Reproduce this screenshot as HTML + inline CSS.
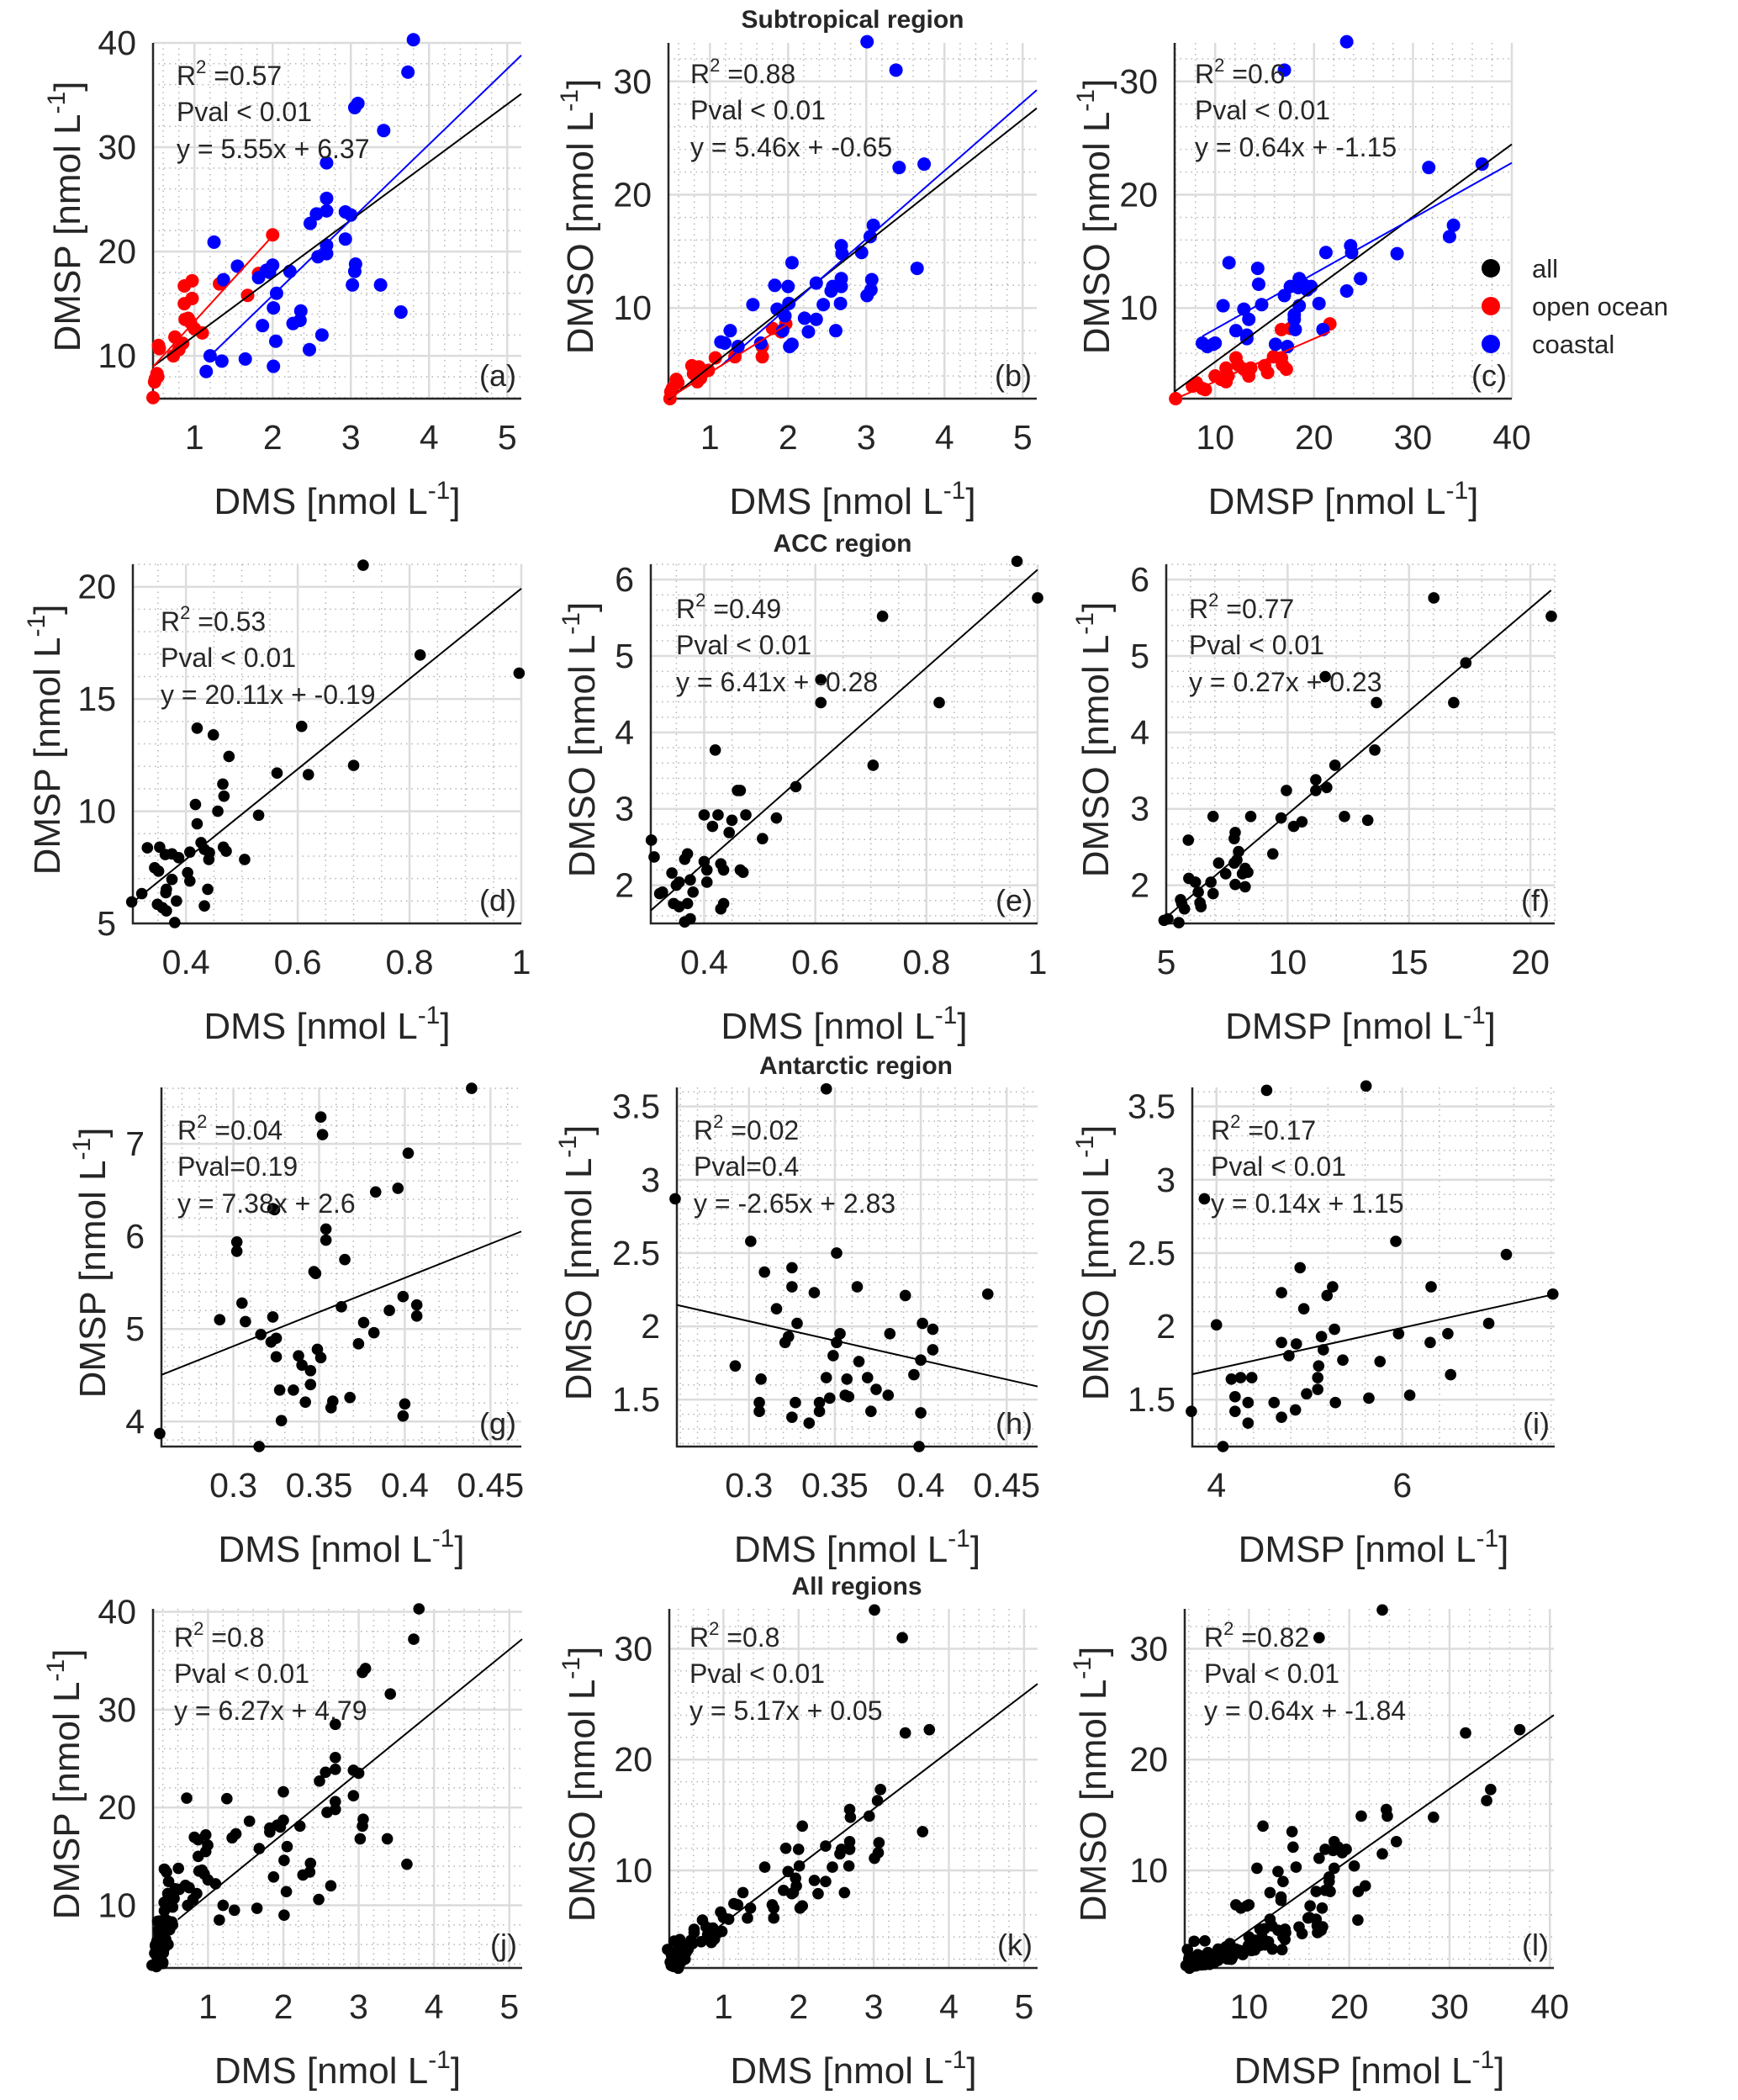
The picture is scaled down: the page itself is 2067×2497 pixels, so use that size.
<!DOCTYPE html>
<html><head><meta charset="utf-8"><style>
body{margin:0;background:#fff}
svg{display:block}
text{font-family:"Liberation Sans",Arial,sans-serif;fill:#262626}
</style></head><body>
<svg id="fig" width="2067" height="2497" viewBox="0 0 2067 2497" xmlns="http://www.w3.org/2000/svg"></svg>
<script>
// ---------- DATA ----------
const aRed=[[0.47,6],[0.5,7.8],[0.52,8.3],[0.49,7.5],[0.53,8],[0.54,11],[0.55,10.7],[0.73,10],[0.75,11.8],[0.8,10.6],[0.85,11.2],[0.87,16.7],[0.97,17.2],[0.97,15.5],[0.87,15],[0.88,13.5],[0.92,13.6],[0.95,13.2],[1.0,12.6],[1.1,12.2],[1.32,16.9],[1.68,15.8],[1.82,17.9],[2.0,21.6]];
const aBlue=[[1.15,8.5],[1.2,10],[1.35,9.5],[1.65,9.7],[1.25,20.9],[1.37,17.3],[1.55,18.6],[1.82,17.5],[1.92,18.2],[2.0,18.7],[1.96,18],[2.05,16],[2.01,14.6],[1.87,12.9],[2.04,11.4],[2.01,9],[2.22,18.1],[2.26,13.1],[2.35,13.4],[2.36,14.3],[2.47,10.6],[2.63,12],[2.48,22.7],[2.56,23.6],[2.69,23.9],[2.69,25.1],[2.69,20.6],[2.69,19.8],[2.58,19.5],[2.69,28.5],[2.93,23.8],[3.0,23.5],[2.93,21.2],[3.06,18.8],[3.05,18.1],[3.02,16.8],[3.38,16.8],[3.64,14.2],[3.05,33.8],[3.09,34.2],[3.42,31.6],[3.73,37.2],[3.8,40.3]];
const bRed=[[0.49,2],[0.52,2.9],[0.57,3.7],[0.5,2.6],[0.59,3.4],[0.77,4.9],[0.82,4.6],[0.86,4.8],[0.79,4.2],[0.88,3.8],[0.93,4.4],[0.98,4.5],[0.84,3.5],[0.89,4.1],[1.07,5.6],[1.32,5.7],[1.67,6.6],[1.67,5.7],[1.8,8.2],[1.97,8.6],[1.91,7.9]];
const bBlue=[[3.01,33.5],[3.38,31],[3.42,22.4],[3.74,22.7],[3.09,17.3],[3.05,16.3],[2.94,14.9],[2.68,15.5],[2.69,14.8],[2.05,14],[1.83,12],[2.0,11.9],[2.36,12.2],[2.01,10.4],[1.86,9.9],[1.96,9.3],[1.55,10.3],[2.57,11.9],[2.55,11.5],[2.68,12.6],[2.68,11.9],[2.67,10.4],[2.45,10.3],[2.21,9.1],[2.36,9],[2.26,7.9],[2.61,8],[1.93,8],[2.02,6.6],[2.05,6.8],[1.65,6.9],[1.26,8],[1.14,7],[1.19,6.9],[1.36,6.6],[3.07,12.5],[3.06,11.6],[3.01,11.1],[3.65,13.5]];
const cRed=[[6,2],[7.7,3.1],[8.1,3.4],[8.7,2.9],[9.0,2.8],[10,4],[10.6,3.7],[11.1,3.5],[11.3,4],[11.1,4.7],[12.1,5.6],[12.3,5],[12.9,4.6],[13.4,4],[13.6,4.7],[15,4.9],[15.3,4.3],[15.9,5.7],[16.7,5.6],[16.8,5],[17.2,4.6],[16.7,8.1],[17.6,8.2],[21.6,8.6]];
const cBlue=[[23.3,33.5],[17,31],[31.6,22.4],[37,22.7],[34.1,17.3],[33.7,16.3],[28.4,14.8],[23.7,15.5],[23.8,14.9],[21.2,14.9],[24.7,12.6],[23.3,11.5],[11.4,14],[14.3,13.5],[14.4,12.1],[10.8,10.2],[14.7,10.3],[12.9,9.9],[13.4,9],[12.1,8],[13.2,7.6],[13.2,7.3],[8.7,6.9],[9.2,6.6],[9.8,6.8],[10,6.9],[16.1,6.8],[17.3,6.6],[17,11.1],[17.6,11.9],[18.5,12.6],[18.4,11.8],[18.9,12.1],[19.7,11.9],[19.3,11.6],[18.5,10.2],[18,9.4],[18,9],[18.1,8.1],[20.5,10.4],[20.9,8.1]];
const dPts=[[0.717,20.96],[0.819,16.96],[0.996,16.15],[0.607,13.78],[0.42,13.7],[0.449,13.4],[0.477,12.44],[0.70,12.04],[0.563,11.7],[0.619,11.63],[0.466,11.21],[0.468,10.67],[0.417,10.3],[0.457,10],[0.53,9.82],[0.42,9.44],[0.331,8.37],[0.353,8.4],[0.363,8.07],[0.375,8.1],[0.387,7.93],[0.407,8.18],[0.427,8.6],[0.433,8.3],[0.442,8.15],[0.441,7.85],[0.467,8.4],[0.472,8.22],[0.505,7.85],[0.344,7.48],[0.351,7.33],[0.375,6.96],[0.403,7.26],[0.407,6.89],[0.365,6.52],[0.364,6.37],[0.439,6.52],[0.303,5.96],[0.321,6.33],[0.349,5.85],[0.358,5.7],[0.365,5.56],[0.383,6],[0.38,5.04],[0.433,5.78]];
const ePts=[[0.963,6.24],[1.0,5.76],[0.721,5.52],[0.823,4.39],[0.704,3.57],[0.61,4.69],[0.61,4.39],[0.42,3.77],[0.305,2.59],[0.31,2.37],[0.4,2.92],[0.425,2.92],[0.415,2.77],[0.445,2.69],[0.45,2.85],[0.475,2.92],[0.46,3.24],[0.465,3.24],[0.565,3.29],[0.53,2.88],[0.505,2.61],[0.37,2.41],[0.365,2.34],[0.342,2.16],[0.325,1.91],[0.32,1.89],[0.35,2.0],[0.355,2.04],[0.375,2.07],[0.38,1.91],[0.4,2.31],[0.405,2.2],[0.405,2.04],[0.43,2.28],[0.435,2.2],[0.465,2.2],[0.47,2.17],[0.345,1.76],[0.355,1.72],[0.37,1.76],[0.435,1.76],[0.43,1.69],[0.365,1.52],[0.375,1.56]];
const fPts=[[16.02,5.76],[20.86,5.52],[17.34,4.91],[11.55,4.73],[13.66,4.39],[16.84,4.39],[13.59,3.77],[11.95,3.57],[11.16,3.38],[11.16,3.24],[11.61,3.28],[9.95,3.24],[6.93,2.9],[8.48,2.9],[9.73,2.88],[12.34,2.9],[13.3,2.85],[10.59,2.83],[10.25,2.77],[5.91,2.59],[7.84,2.69],[7.8,2.61],[9.39,2.41],[7.98,2.44],[7.91,2.33],[7.16,2.29],[7.8,2.29],[7.45,2.15],[8.25,2.22],[8.36,2.17],[8.14,2.15],[5.93,2.09],[6.2,2.04],[6.84,2.04],[7.84,2.01],[8.25,1.98],[6.32,1.91],[6.93,1.89],[5.59,1.81],[5.75,1.69],[5.64,1.76],[6.39,1.77],[6.43,1.72],[4.91,1.54],[5.07,1.56],[5.52,1.51]];
const gPts=[[0.439,7.6],[0.351,7.29],[0.352,7.1],[0.402,6.9],[0.396,6.52],[0.383,6.48],[0.323,6.3],[0.324,6.29],[0.354,6.08],[0.354,5.96],[0.302,5.94],[0.302,5.84],[0.365,5.75],[0.347,5.62],[0.348,5.6],[0.305,5.28],[0.399,5.35],[0.407,5.26],[0.407,5.14],[0.363,5.24],[0.391,5.2],[0.292,5.1],[0.307,5.08],[0.323,5.13],[0.376,5.07],[0.382,4.96],[0.316,4.94],[0.325,4.9],[0.322,4.86],[0.373,4.84],[0.349,4.78],[0.351,4.69],[0.325,4.7],[0.338,4.71],[0.34,4.61],[0.345,4.55],[0.345,4.4],[0.327,4.34],[0.335,4.34],[0.368,4.26],[0.358,4.22],[0.357,4.15],[0.342,4.21],[0.4,4.19],[0.399,4.06],[0.328,4.01],[0.257,3.87],[0.315,3.73]];
const hPts=[[0.345,3.62],[0.257,2.87],[0.301,2.58],[0.351,2.5],[0.309,2.37],[0.325,2.4],[0.325,2.27],[0.338,2.23],[0.363,2.27],[0.316,2.12],[0.328,2.02],[0.353,1.95],[0.323,1.93],[0.321,1.89],[0.351,1.89],[0.349,1.8],[0.292,1.73],[0.364,1.76],[0.369,1.65],[0.345,1.65],[0.307,1.64],[0.357,1.64],[0.306,1.48],[0.327,1.48],[0.341,1.48],[0.347,1.51],[0.356,1.53],[0.358,1.52],[0.306,1.42],[0.325,1.38],[0.335,1.34],[0.341,1.42],[0.391,2.21],[0.439,2.22],[0.401,2.02],[0.407,1.98],[0.382,1.95],[0.407,1.84],[0.4,1.77],[0.396,1.67],[0.374,1.57],[0.381,1.53],[0.371,1.42],[0.4,1.41],[0.399,1.18]];
const iPts=[[4.54,3.61],[5.61,3.64],[3.87,2.87],[5.93,2.58],[7.12,2.49],[4.9,2.4],[5.25,2.27],[5.19,2.21],[4.7,2.23],[6.31,2.27],[7.62,2.22],[4,2.01],[4.94,2.12],[6.93,2.02],[5.27,1.98],[5.96,1.95],[6.49,1.95],[5.13,1.93],[4.7,1.89],[4.86,1.88],[6.3,1.89],[5.15,1.84],[4.78,1.8],[5.36,1.77],[5.76,1.76],[5.1,1.73],[5.09,1.65],[5.09,1.57],[4.16,1.64],[4.26,1.65],[4.38,1.65],[6.52,1.67],[4.97,1.54],[6.08,1.53],[5.64,1.51],[4.2,1.52],[4.34,1.48],[4.62,1.48],[5.28,1.48],[3.73,1.42],[4.2,1.42],[4.85,1.43],[4.7,1.38],[4.34,1.34],[4.07,1.18]];
const jPts=aRed.concat(aBlue,dPts,gPts);
const kPts=bRed.concat(bBlue,ePts,hPts);
const lPts=cRed.concat(cBlue,fPts,iPts);
// regression lines: [slope, intercept, xStart, xEnd]
const fitA=[5.55,6.37,0.47,5.18], fitARed=[8.2,5.1,0.47,2.0], fitABlue=[7.24,1.31,1.2,5.18];
const fitB=[5.46,-0.65,0.47,5.18], fitBRed=[4.3,0.0,0.47,2.0], fitBBlue=[6.03,-2.0,1.14,5.18];
const fitC=[0.64,-1.15,5.9,40], fitCRed=[0.378,-0.27,6,21.6], fitCBlue=[0.489,3.25,8.7,40];
const fitD=[20.11,-0.19,0.305,1.0], fitE=[6.41,-0.28,0.304,1.0], fitF=[0.27,0.23,5.0,20.85];
const fitG=[7.38,2.6,0.258,0.468], fitH=[-2.65,2.83,0.258,0.468], fitI=[0.14,1.15,3.74,7.64];
const fitJ=[6.27,4.79,0.6,5.17], fitK=[5.17,0.05,0.35,5.18], fitL=[0.64,-1.84,8.3,40.4];
// tick labels
const ticksDMSsub=[1,2,3,4,5], ticksDMSPsub=[10,20,30,40], ticksA_y=[10,20,30,40], ticksB_y=[10,20,30];
const ticksD_x=[0.4,0.6,0.8,1], ticksD_y=[5,10,15,20], ticksE_y=[2,3,4,5,6], ticksF_x=[5,10,15,20];
const ticksG_x=[0.3,0.35,0.4,0.45], ticksG_y=[4,5,6,7], ticksH_y=[1.5,2,2.5,3,3.5], ticksI_x=[4,6];
const statsA=["0.57","Pval < 0.01","y = 5.55x + 6.37"], statsB=["0.88","Pval < 0.01","y = 5.46x + -0.65"], statsC=["0.6","Pval < 0.01","y = 0.64x + -1.15"];
const statsD=["0.53","Pval < 0.01","y = 20.11x + -0.19"], statsE=["0.49","Pval < 0.01","y = 6.41x + -0.28"], statsF=["0.77","Pval < 0.01","y = 0.27x + 0.23"];
const statsG=["0.04","Pval=0.19","y = 7.38x + 2.6"], statsH=["0.02","Pval=0.4","y = -2.65x + 2.83"], statsI=["0.17","Pval < 0.01","y = 0.14x + 1.15"];
const statsJ=["0.8","Pval < 0.01","y = 6.27x + 4.79"], statsK=["0.8","Pval < 0.01","y = 5.17x + 0.05"], statsL=["0.82","Pval < 0.01","y = 0.64x + -1.84"];

// ---------- LAYOUT ----------
const NS="http://www.w3.org/2000/svg";
const svg=document.getElementById('fig');
function el(tag,attrs,parent){const e=document.createElementNS(NS,tag);for(const k in attrs)e.setAttribute(k,attrs[k]);(parent||svg).appendChild(e);return e;}
const BLK='#000', RED='#ff0000', BLU='#0000ff';
const panels=[
 {id:'a',L:182,R:620,T:51,B:474,x:[0.47,5.18],y:[5.9,40],xt:ticksDMSsub,yt:ticksA_y,xm:0.2,ym:2,series:[[aRed,RED],[aBlue,BLU]],fits:[[fitA,BLK],[fitABlue,BLU],[fitARed,RED]],st:statsA,tx:210,ty:101,xl:'DMS',yl:'DMSP',ylx:80},
 {id:'b',L:795,R:1233,T:51,B:474,x:[0.47,5.18],y:[2.0,33.4],xt:ticksDMSsub,yt:ticksB_y,xm:0.2,ym:2,series:[[bRed,RED],[bBlue,BLU]],fits:[[fitB,BLK],[fitBBlue,BLU],[fitBRed,RED]],st:statsB,tx:821,ty:99,xl:'DMS',yl:'DMSO',ylx:690},
 {id:'c',L:1397,R:1798,T:51,B:474,x:[5.9,40],y:[2.0,33.4],xt:ticksDMSPsub,yt:ticksB_y,xm:2,ym:2,series:[[cRed,RED],[cBlue,BLU]],fits:[[fitC,BLK],[fitCBlue,BLU],[fitCRed,RED]],st:statsC,tx:1421,ty:99,xl:'DMSP',yl:'DMSO',ylx:1304},
 {id:'d',L:158,R:620,T:671,B:1098,x:[0.305,1.0],y:[5,21],xt:ticksD_x,yt:ticksD_y,xm:0.05,ym:1,series:[[dPts,BLK]],fits:[[fitD,BLK]],st:statsD,tx:191,ty:750,xl:'DMS',yl:'DMSP',ylx:56},
 {id:'e',L:774,R:1234,T:671,B:1098,x:[0.304,1.0],y:[1.5,6.2],xt:ticksD_x,yt:ticksE_y,xm:0.05,ym:0.2,series:[[ePts,BLK]],fits:[[fitE,BLK]],st:statsE,tx:804,ty:735,xl:'DMS',yl:'DMSO',ylx:692},
 {id:'f',L:1387,R:1849,T:671,B:1098,x:[5,21],y:[1.5,6.2],xt:ticksF_x,yt:ticksE_y,xm:1,ym:0.2,series:[[fPts,BLK]],fits:[[fitF,BLK]],st:statsF,tx:1414,ty:735,xl:'DMSP',yl:'DMSO',ylx:1303},
 {id:'g',L:192,R:620,T:1293,B:1720,x:[0.258,0.468],y:[3.73,7.61],xt:ticksG_x,yt:ticksG_y,xm:0.01,ym:0.2,series:[[gPts,BLK]],fits:[[fitG,BLK]],st:statsG,tx:211,ty:1355,xl:'DMS',yl:'DMSP',ylx:110},
 {id:'h',L:805,R:1234,T:1293,B:1720,x:[0.258,0.468],y:[1.18,3.63],xt:ticksG_x,yt:ticksH_y,xm:0.01,ym:0.1,series:[[hPts,BLK]],fits:[[fitH,BLK]],st:statsH,tx:825,ty:1355,xl:'DMS',yl:'DMSO',ylx:688},
 {id:'i',L:1418,R:1849,T:1293,B:1720,x:[3.74,7.64],y:[1.18,3.63],xt:ticksI_x,yt:ticksH_y,xm:0.4,ym:0.1,series:[[iPts,BLK]],fits:[[fitI,BLK]],st:statsI,tx:1440,ty:1355,xl:'DMSP',yl:'DMSO',ylx:1303},
 {id:'j',L:182,R:621,T:1913,B:2340,x:[0.27,5.17],y:[3.6,40.3],xt:ticksDMSsub,yt:ticksA_y,xm:0.2,ym:2,series:[[jPts,BLK]],fits:[[fitJ,BLK]],st:statsJ,tx:207,ty:1958,xl:'DMS',yl:'DMSP',ylx:79},
 {id:'k',L:796,R:1234,T:1913,B:2340,x:[0.28,5.18],y:[1.2,33.6],xt:ticksDMSsub,yt:ticksB_y,xm:0.2,ym:2,series:[[kPts,BLK]],fits:[[fitK,BLK]],st:statsK,tx:820,ty:1958,xl:'DMS',yl:'DMSO',ylx:692},
 {id:'l',L:1409,R:1848,T:1913,B:2340,x:[3.6,40.4],y:[1.2,33.6],xt:ticksDMSPsub,yt:ticksB_y,xm:2,ym:2,series:[[lPts,BLK]],fits:[[fitL,BLK]],st:statsL,tx:1432,ty:1958,xl:'DMSP',yl:'DMSO',ylx:1300}
];
const titles=[['Subtropical region',1014,33],['ACC region',1002,656],['Antarctic region',1018,1277],['All regions',1019,1896]];
titles.forEach(t=>{
  const e=el('text',{x:t[1],y:t[2],'font-size':30,'font-weight':'bold','text-anchor':'middle'});
  
  
  e.textContent=t[0];
});

panels.forEach(p=>{
  const g=el('g',{});
  
  
  const sx=v=>p.L+(v-p.x[0])/(p.x[1]-p.x[0])*(p.R-p.L);
  const sy=v=>p.B-(v-p.y[0])/(p.y[1]-p.y[0])*(p.B-p.T);
  const gm=el('g',{stroke:'#b5b5b5','stroke-width':1.5,'stroke-dasharray':'1.5 5'},g);
  
  
  for(let v=Math.ceil(p.x[0]/p.xm)*p.xm; v<=p.x[1]+1e-9; v+=p.xm){el('line',{x1:sx(v),x2:sx(v),y1:p.T,y2:p.B},gm);}
  for(let v=Math.ceil(p.y[0]/p.ym)*p.ym; v<=p.y[1]+1e-9; v+=p.ym){el('line',{x1:p.L,x2:p.R,y1:sy(v),y2:sy(v)},gm);}
  const gM=el('g',{stroke:'#dcdcdc','stroke-width':2.5},g);
  
  
  p.xt.forEach(v=>{
    el('line',{x1:sx(v),x2:sx(v),y1:p.T,y2:p.B},gM);
    const t=el('text',{x:sx(v),y:p.B+60,'font-size':41,'text-anchor':'middle'},g);
    
    
    t.textContent=v;
  });
  p.yt.forEach(v=>{
    el('line',{x1:p.L,x2:p.R,y1:sy(v),y2:sy(v)},gM);
    const t=el('text',{x:p.L-20,y:sy(v)+14,'font-size':41,'text-anchor':'end'},g);
    
    
    t.textContent=v;
  });
  const ax=el('path',{d:`M${p.L},${p.T}V${p.B}H${p.R}`,fill:'none',stroke:'#262626','stroke-width':2.5},g);
  
  
  p.series.forEach(s=>{
    s[0].forEach(d=>{
      const c=el('circle',{cx:sx(d[0]),cy:sy(d[1]),r:p.id<'d'?8:6.8,fill:s[1]},g);
      
      
    });
  });
  p.fits.forEach(f=>{
    const q=f[0];
    const ln=el('line',{x1:sx(q[2]),y1:sy(q[0]*q[2]+q[1]),x2:sx(q[3]),y2:sy(q[0]*q[3]+q[1]),stroke:f[1],'stroke-width':2},g);
    
    
  });
  const t1=el('text',{x:p.tx,y:p.ty,'font-size':32},g);
  
  
  t1.innerHTML='R<tspan dy="-14" font-size="22">2</tspan><tspan dy="14"> =' + p.st[0] + '</tspan>';
  const t2=el('text',{x:p.tx,y:p.ty+43,'font-size':32},g);
  
  
  t2.textContent=p.st[1];
  const t3=el('text',{x:p.tx,y:p.ty+87,'font-size':32},g);
  
  
  t3.textContent=p.st[2];
  const pl=el('text',{x:p.R-6,y:p.B-15,'font-size':36,'text-anchor':'end'},g);
  
  
  pl.textContent='('+p.id+')';
  const xl=el('text',{x:(p.L+p.R)/2,y:p.B+137,'font-size':44,'text-anchor':'middle'},g);
  
  
  xl.innerHTML=p.xl+' [nmol L<tspan dy="-18" font-size="30">-1</tspan><tspan dy="18">]</tspan>';
  const cy=(p.T+p.B)/2-5;
  const yl=el('text',{x:p.ylx+15,y:cy,'font-size':44,'text-anchor':'middle',transform:`rotate(-90 ${p.ylx+15} ${cy})`},g);
  
  
  yl.innerHTML=p.yl+' [nmol L<tspan dy="-18" font-size="30">-1</tspan><tspan dy="18">]</tspan>';
});
const legItems=[['all',BLK,319],['open ocean',RED,364],['coastal',BLU,409]];
legItems.forEach(l=>{
  const c=el('circle',{cx:1773,cy:l[2],r:11,fill:l[1]});
  
  
  const t=el('text',{x:1822,y:l[2]+11,'font-size':31});
  
  
  t.textContent=l[0];
});
</script>
</body></html>
